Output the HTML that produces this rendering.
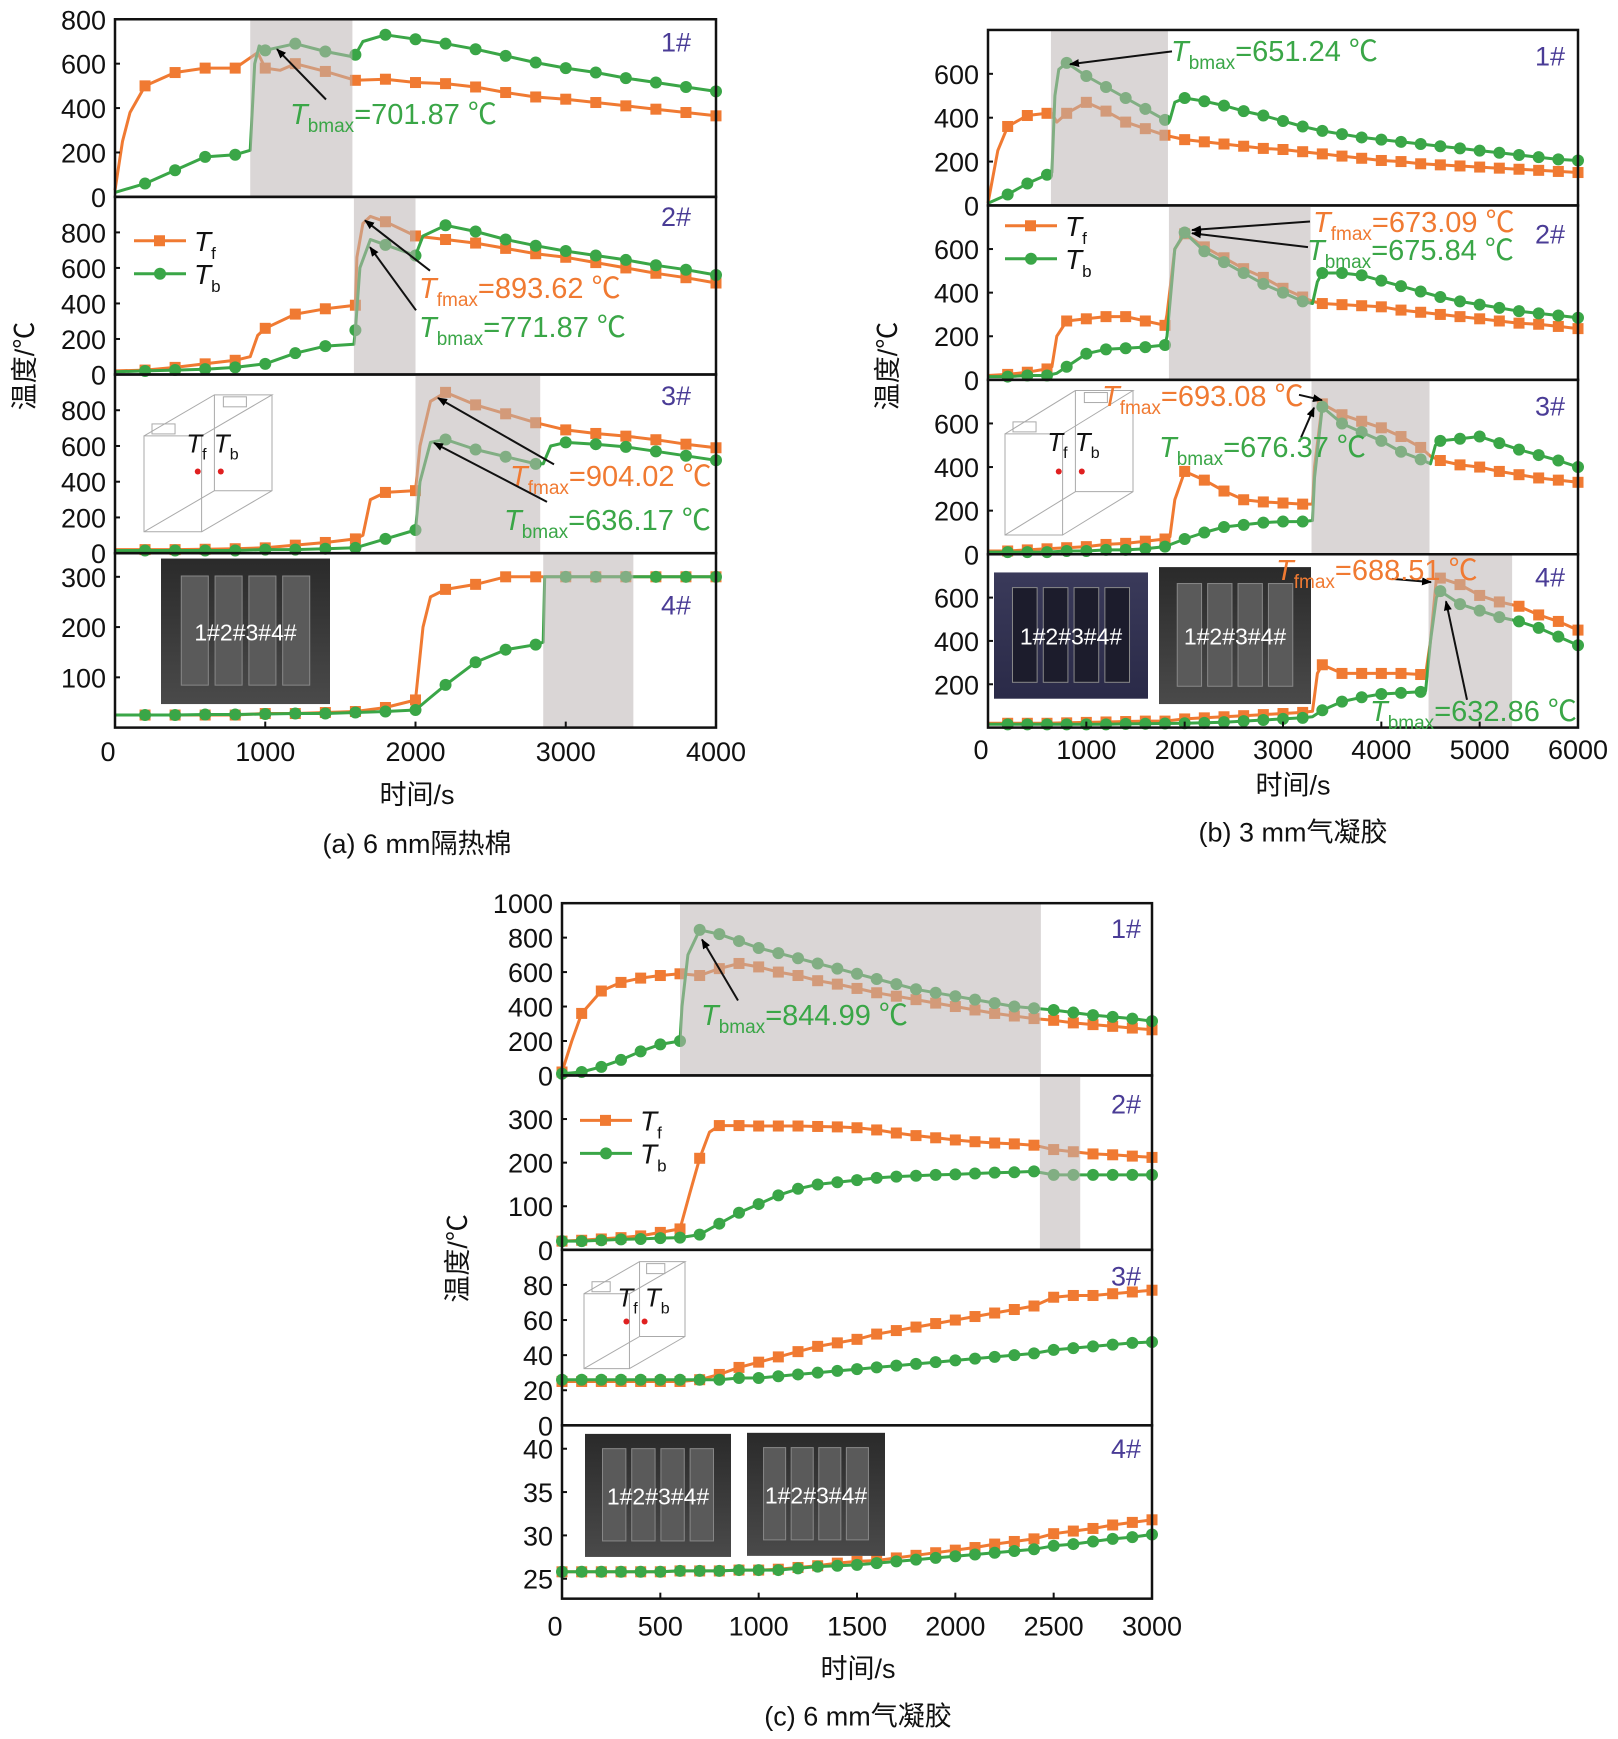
<!DOCTYPE html>
<html><head><meta charset="utf-8"><style>
html,body{margin:0;padding:0;background:#fff}
svg{display:block;font-family:"Liberation Sans","Noto Sans CJK SC",sans-serif}
</style></head><body>
<svg id="fig" width="1618" height="1739" viewBox="0 0 1618 1739" xmlns="http://www.w3.org/2000/svg">
<defs><marker id="ah" markerWidth="10" markerHeight="8" refX="9" refY="4" orient="auto" markerUnits="userSpaceOnUse"><path d="M0,0 L10,4 L0,8 z" fill="#000"/></marker>
<linearGradient id="ph1" x1="0" y1="0" x2="0" y2="1"><stop offset="0" stop-color="#2a2a2a"/><stop offset="1" stop-color="#4a4a4a"/></linearGradient>
<linearGradient id="ph2" x1="0" y1="0" x2="0" y2="1"><stop offset="0" stop-color="#3a3a5a"/><stop offset="1" stop-color="#2a2a48"/></linearGradient>
</defs>
</svg>
<script>
// ---- Panel (a) 6 mm 隔热棉 ----
const a1_ft=[0,50,100,200,400,600,800,950,1000,1100,1200,1400,1600,1800,2000,2200,2400,2600,2800,3000,3200,3400,3600,3800,4000];
const a1_fv=[30,250,380,500,560,580,580,650,580,570,600,565,525,530,515,510,495,470,450,440,425,410,395,380,365];
const a1_bt=[0,200,400,600,800,900,930,960,1000,1200,1400,1590,1600,1650,1800,2000,2200,2400,2600,2800,3000,3200,3400,3600,3800,4000];
const a1_bv=[20,60,120,180,190,210,600,680,660,690,655,630,640,700,730,710,690,665,635,605,580,560,535,515,495,475];
const a2_ft=[0,200,400,600,800,900,950,1000,1200,1400,1600,1610,1650,1700,1800,2000,2200,2400,2600,2800,3000,3200,3400,3600,3800,4000];
const a2_fv=[20,25,40,60,80,100,220,260,340,370,390,660,850,890,860,780,760,740,710,680,660,630,600,570,545,515];
const a2_bt=[0,200,400,600,800,1000,1200,1400,1590,1600,1630,1700,1800,2000,2050,2200,2400,2600,2800,3000,3200,3400,3600,3800,4000];
const a2_bv=[15,20,25,30,40,60,120,160,170,250,600,760,730,670,780,840,805,760,725,695,670,645,615,590,560];
const a3_ft=[0,200,400,600,800,1000,1200,1400,1600,1650,1700,1800,2000,2030,2100,2200,2400,2600,2800,3000,3200,3400,3600,3800,4000];
const a3_fv=[20,20,20,22,25,30,45,60,80,100,300,340,350,600,850,900,830,780,730,690,670,655,635,610,590];
const a3_bt=[0,200,400,600,800,1000,1200,1400,1600,1800,2000,2030,2100,2200,2400,2600,2800,2850,2900,3000,3200,3400,3600,3800,4000];
const a3_bv=[15,15,15,15,15,20,20,25,30,80,130,400,620,636,580,540,500,500,600,620,610,595,570,545,520];
const a4_ft=[0,200,400,600,800,1000,1200,1400,1600,1800,2000,2050,2100,2200,2400,2600,2800,3000,3200,3400,3600,3800,4000];
const a4_fv=[25,25,25,25,25,28,28,30,32,40,55,200,260,275,285,300,300,300,300,300,300,300,300];
const a4_bt=[0,200,400,600,800,1000,1200,1400,1600,1800,2000,2100,2200,2400,2600,2800,2850,2860,3000,3200,3400,3600,3800,4000];
const a4_bv=[25,25,25,26,26,27,28,28,30,32,35,60,85,130,155,165,170,300,300,300,300,300,300,300];
const a_shades=[[900,1580],[1590,2000],[2000,2830],[2850,3450]];
const a_xticks=[0,1000,2000,3000,4000];
const a_yticks=[[0,200,400,600,800],[0,200,400,600,800],[0,200,400,600,800],[100,200,300]];
// ---- Panel (b) 3 mm 气凝胶 ----
const b1_ft=[0,100,200,400,600,650,700,800,1000,1200,1400,1600,1800,2000,2200,2400,2600,2800,3000,3200,3400,3600,3800,4000,4200,4400,4600,4800,5000,5200,5400,5600,5800,6000];
const b1_fv=[10,250,360,410,420,420,380,420,470,430,380,350,320,300,290,280,270,260,255,245,235,225,215,205,200,190,185,180,175,170,165,160,155,150];
const b1_bt=[0,200,400,600,650,680,720,800,1000,1200,1400,1600,1800,1850,1900,2000,2200,2400,2600,2800,3000,3200,3400,3600,3800,4000,4200,4400,4600,4800,5000,5200,5400,5600,5800,6000];
const b1_bv=[10,50,100,140,150,500,620,650,590,540,490,440,390,390,470,490,475,455,430,410,385,360,340,325,310,300,290,280,270,260,250,240,230,220,210,205];
const b2_ft=[0,200,400,600,650,700,800,1000,1200,1400,1600,1800,1820,1900,2000,2200,2400,2600,2800,3000,3200,3300,3400,3600,3800,4000,4200,4400,4600,4800,5000,5200,5400,5600,5800,6000];
const b2_fv=[20,25,35,50,60,200,270,280,290,290,270,250,300,600,670,610,560,510,470,420,380,360,350,345,340,335,320,310,300,290,280,270,260,255,245,235];
const b2_bt=[0,200,400,600,700,800,1000,1200,1400,1600,1800,1820,1900,2000,2200,2400,2600,2800,3000,3200,3300,3350,3400,3600,3800,4000,4200,4400,4600,4800,5000,5200,5400,5600,5800,6000];
const b2_bv=[15,15,20,20,30,60,120,140,145,150,160,200,600,676,590,540,490,440,400,360,350,450,490,490,480,455,430,405,380,360,345,330,315,305,295,285];
const b3_ft=[0,200,400,600,800,1000,1200,1400,1600,1800,1850,1900,2000,2200,2400,2600,2800,3000,3200,3300,3320,3400,3600,3800,4000,4200,4400,4500,4600,4800,5000,5200,5400,5600,5800,6000];
const b3_fv=[15,15,20,25,30,35,45,50,60,70,80,250,380,340,290,250,240,235,230,230,400,690,640,610,580,540,490,450,430,410,400,380,365,350,340,330];
const b3_bt=[0,200,400,600,800,1000,1200,1400,1600,1800,2000,2200,2400,2600,2800,3000,3200,3300,3320,3400,3600,3800,4000,4200,4400,4500,4550,4600,4800,5000,5200,5400,5600,5800,6000];
const b3_bv=[10,10,10,10,15,15,20,20,25,35,70,100,125,135,145,150,150,155,350,676,600,560,520,470,435,415,500,520,530,540,510,480,455,430,400];
const b4_ft=[0,200,400,600,800,1000,1200,1400,1600,1800,2000,2200,2400,2600,2800,3000,3200,3300,3350,3400,3600,3800,4000,4200,4400,4450,4500,4560,4600,4800,5000,5200,5400,5600,5800,6000];
const b4_fv=[20,20,20,20,22,24,26,28,30,30,40,45,50,55,60,65,70,75,250,290,250,250,250,250,245,245,400,688,690,660,610,580,560,520,490,450];
const b4_bt=[0,200,400,600,800,1000,1200,1400,1600,1800,2000,2200,2400,2600,2800,3000,3200,3300,3400,3600,3800,4000,4200,4400,4450,4500,4560,4600,4800,5000,5200,5400,5600,5800,6000];
const b4_bv=[15,15,15,15,15,15,15,17,18,19,20,22,25,30,35,40,45,50,80,120,140,155,160,165,170,400,600,630,570,540,510,490,460,420,380];
const b_shades=[[640,1830],[1840,3280],[3290,4490],[4480,5330]];
const b_xticks=[0,1000,2000,3000,4000,5000,6000];
const b_yticks=[[0,200,400,600],[0,200,400,600],[0,200,400,600],[200,400,600]];
// ---- Panel (c) 6 mm 气凝胶 ----
const c1_ft=[0,50,100,200,300,400,500,600,700,800,900,1000,1100,1200,1300,1400,1500,1600,1700,1800,1900,2000,2100,2200,2300,2400,2500,2600,2700,2800,2900,3000];
const c1_fv=[20,200,360,490,540,565,580,590,580,620,650,630,600,580,550,530,505,480,460,440,420,400,380,360,345,330,320,305,295,285,275,265];
const c1_bt=[0,100,200,300,400,500,600,610,640,700,800,900,1000,1100,1200,1300,1400,1500,1600,1700,1800,1900,2000,2100,2200,2300,2400,2500,2600,2700,2800,2900,3000];
const c1_bv=[10,20,50,90,140,180,200,400,700,845,820,780,740,710,680,650,620,590,560,530,500,480,460,440,420,400,390,380,365,350,340,330,315];
const c2_ft=[0,100,200,300,400,500,600,650,700,750,800,900,1000,1100,1200,1300,1400,1500,1600,1700,1800,1900,2000,2100,2200,2300,2400,2500,2600,2700,2800,2900,3000];
const c2_fv=[20,22,25,28,32,40,48,130,210,270,285,285,284,284,284,283,282,280,275,268,262,257,252,248,245,243,240,230,225,220,218,215,212];
const c2_bt=[0,100,200,300,400,500,600,700,800,900,1000,1100,1200,1300,1400,1500,1600,1700,1800,1900,2000,2100,2200,2300,2400,2500,2600,2700,2800,2900,3000];
const c2_bv=[20,20,22,24,25,27,28,35,60,85,105,125,140,150,155,160,165,168,170,172,173,175,177,178,180,172,172,172,172,172,172];
const c3_t=[0,100,200,300,400,500,600,700,800,900,1000,1100,1200,1300,1400,1500,1600,1700,1800,1900,2000,2100,2200,2300,2400,2500,2600,2700,2800,2900,3000];
const c3_fv=[25,25,25,25,25,25,25,26,29,33,36,39,42,45,47,49,52,54,56,58,60,62,64,66,68,73,74,74,75,76,77];
const c3_bv=[26,26,26,26,26,26,26,26,26,27,27,28,29,30,31,32,33,34,35,36,37,38,39,40,41,43,44,45,46,47,47.5];
const c4_t=[0,100,200,300,400,500,600,700,800,900,1000,1100,1200,1300,1400,1500,1600,1700,1800,1900,2000,2100,2200,2300,2400,2500,2600,2700,2800,2900,3000];
const c4_fv=[25.8,25.8,25.8,25.8,25.8,25.8,25.9,25.9,25.9,26,26,26.1,26.3,26.5,26.8,27,27.1,27.4,27.7,28,28.3,28.6,29,29.3,29.6,30.2,30.5,30.8,31.2,31.5,31.8];
const c4_bv=[25.8,25.8,25.8,25.8,25.8,25.8,25.9,25.9,25.9,26,26,26,26.2,26.4,26.5,26.6,26.8,27,27.2,27.4,27.6,27.8,28,28.2,28.4,28.8,29,29.3,29.6,29.8,30.1];
const c_shades=[[600,2435],[2430,2635],null,null];
const c_xticks=[0,500,1000,1500,2000,2500,3000];
const c_yticks=[[0,200,400,600,800,1000],[0,100,200,300],[0,20,40,60,80],[25,30,35,40]];

const NS='http://www.w3.org/2000/svg';
const svg=document.getElementById('fig');
const OR='#f07a32', GR='#3aa647', PU='#4a3c96';
const K=1.07;
function fy(y){return y<860? y*K : 870+(y-870)*K;}
function el(tag,attrs,parent,text){const e=document.createElementNS(NS,tag);for(const k in attrs)e.setAttribute(k,attrs[k]);if(text!==undefined)e.textContent=text;(parent||svg).appendChild(e);return e;}

const panels=[
 {id:'a',x0:115,x1:716,tmax:4000,step:200,m0:false,xt:a_xticks,yt:a_yticks,sh:a_shades,
  subs:[[18,184,0,800],[184,350,0,1000],[350,517,0,1000],[517,680,0,347]],
  ser:[[a1_ft,a1_fv,a1_bt,a1_bv],[a2_ft,a2_fv,a2_bt,a2_bv],[a3_ft,a3_fv,a3_bt,a3_bv],[a4_ft,a4_fv,a4_bt,a4_bv]],
  tickY:702,xlab:[417,742],cap:[417,788,'(a) 6 mm隔热棉'],ylab:[24,342],lab:[676,[39,202,369,565]],legend:[134,225]},
 {id:'b',x0:988,x1:1578,tmax:6000,step:200,m0:false,xt:b_xticks,yt:b_yticks,sh:b_shades,
  subs:[[28,192,0,800],[192,355,0,800],[355,518,0,800],[518,680,0,800]],
  ser:[[b1_ft,b1_fv,b1_bt,b1_bv],[b2_ft,b2_fv,b2_bt,b2_bv],[b3_ft,b3_fv,b3_bt,b3_bv],[b4_ft,b4_fv,b4_bt,b4_bv]],
  tickY:700,xlab:[1293,733],cap:[1293,777,'(b) 3 mm气凝胶'],ylab:[887,342],lab:[1550,[52,218,379,539]],legend:[1005,211]},
 {id:'c',x0:562,x1:1152,tmax:3000,step:100,m0:true,xt:c_xticks,yt:c_yticks,sh:c_shades,
  subs:[[901,1062,0,1000],[1062,1225,0,400],[1225,1389,0,100],[1389,1551,22.7,42.7]],
  ser:[[c1_ft,c1_fv,c1_bt,c1_bv],[c2_ft,c2_fv,c2_bt,c2_bv],[c3_t,c3_fv,c3_t,c3_bv],[c4_t,c4_fv,c4_t,c4_bv]],
  tickY:1576,xlab:[858,1616],cap:[858,1660,'(c) 6 mm气凝胶'],ylab:[457,1233],lab:[1126,[924,1088,1249,1410]],legend:[580,1104]}
];

function drawSeries(g,p,ts,vs,color,square,X,Y){
  let d='';ts.forEach((t,i)=>{d+=(i?'L':'M')+X(t).toFixed(1)+','+Y(vs[i]).toFixed(1);});
  const pl=el('path',{d:d,fill:'none',stroke:color,'stroke-width':3,'stroke-linejoin':'round'},g);
  
  
  ts.forEach((t,i)=>{
    if(t%p.step!==0)return; if(t===0&&!p.m0)return;
    let m;
    if(square){m=el('rect',{x:X(t)-5.5,y:Y(vs[i])-5.5,width:11,height:11,fill:color},g);}
    else{m=el('circle',{cx:X(t),cy:Y(vs[i]),r:6,fill:color},g);}
    
    
  });
}

panels.forEach(p=>{
  const g=el('g',{});
  
  
  const X=t=>p.x0+t/p.tmax*(p.x1-p.x0);
  p.subs.forEach((sb,k)=>{
    const yt=fy(sb[0]), yb=fy(sb[1]), vmin=sb[2], vmax=sb[3];
    const Y=v=>yb-(v-vmin)/(vmax-vmin)*(yb-yt);
    const sg=el('g',{},g);
    
    
    const se=p.ser[k];
    drawSeries(sg,p,se[0],se[1],OR,true,X,Y);
    drawSeries(sg,p,se[2],se[3],GR,false,X,Y);
    const shd=p.sh[k];
    if(shd){const r=el('rect',{x:X(shd[0]),y:yt,width:X(shd[1])-X(shd[0]),height:yb-yt,fill:'rgb(188,180,180)','fill-opacity':0.55},sg);
      
      }
    const fr=el('rect',{x:p.x0,y:yt,width:p.x1-p.x0,height:yb-yt,fill:'none',stroke:'#111','stroke-width':2.5},sg);
    
    
    p.yt[k].forEach(v=>{
      const t=el('text',{x:p.x0-9,y:Y(v)+10,'text-anchor':'end','font-size':27,fill:'#111'},sg,String(v));
      
      
      el('line',{x1:p.x0,x2:p.x0+5,y1:Y(v),y2:Y(v),stroke:'#111','stroke-width':2},sg);
    });
    const lb=el('text',{x:p.lab[0],y:fy(p.lab[1][k])+10,'text-anchor':'middle','font-size':27,fill:PU},sg,(k+1)+'#');
    
    
  });
  const yb=fy(p.subs[3][1]);
  p.xt.forEach(t=>{
    el('line',{x1:X(t),x2:X(t),y1:yb,y2:yb-6,stroke:'#111','stroke-width':2},g);
    const tx=el('text',{x:X(t)+(t===0?-7:0),y:fy(p.tickY)+10,'text-anchor':'middle','font-size':27,fill:'#111'},g,String(t));
    
    
  });
  const xl=el('text',{x:p.xlab[0],y:fy(p.xlab[1])+10,'text-anchor':'middle','font-size':27,fill:'#111'},g,'时间/s');
  
  
  const cp=el('text',{x:p.cap[0],y:fy(p.cap[1])+10,'text-anchor':'middle','font-size':27,fill:'#111'},g,p.cap[2]);
  
  
  const yl=el('text',{x:0,y:0,transform:'translate('+(p.ylab[0]+10)+','+fy(p.ylab[1])+') rotate(-90)','text-anchor':'middle','font-size':27,fill:'#111'},g,'温度/℃');
  
  
  const lx=p.legend[0], ly=fy(p.legend[1]);
  const lg=el('g',{},g);
  
  
  el('line',{x1:lx,x2:lx+52,y1:ly,y2:ly,stroke:OR,'stroke-width':3},lg);
  el('rect',{x:lx+20,y:ly-5.5,width:11,height:11,fill:OR},lg);
  el('line',{x1:lx,x2:lx+52,y1:ly+33,y2:ly+33,stroke:GR,'stroke-width':3},lg);
  el('circle',{cx:lx+26,cy:ly+33,r:6,fill:GR},lg);
  const t1=el('text',{x:lx+60,y:ly+10,'font-size':28,fill:'#111'},lg);
  t1.innerHTML='<tspan font-style="italic">T</tspan><tspan font-size="17" dy="8">f</tspan>';
  const t2=el('text',{x:lx+60,y:ly+43,'font-size':28,fill:'#111'},lg);
  t2.innerHTML='<tspan font-style="italic">T</tspan><tspan font-size="17" dy="8">b</tspan>';
});

function cellSketch(x,y0,w,h0){
  const y=fy(y0), h=h0*K;
  const g=el('g',{stroke:'#aaa','stroke-width':1,fill:'none'});
  
  
  const dx=w*0.55, dy=h*0.3;
  el('path',{d:`M${x},${y+dy} L${x+w-dx},${y+dy} L${x+w-dx},${y+h} L${x},${y+h} Z M${x},${y+dy} L${x+dx},${y} L${x+w},${y} L${x+w-dx},${y+dy} M${x+w},${y} L${x+w},${y+h-dy} L${x+w-dx},${y+h} M${x+dx},${y} L${x+dx},${y+h-dy} L${x},${y+h} M${x+dx},${y+h-dy} L${x+w},${y+h-dy}`},g);
  el('rect',{x:x+8,y:y+dy-12,width:w*0.18,height:10},g);
  el('rect',{x:x+w*0.62,y:y+2,width:w*0.18,height:10},g);
  const t=el('text',{x:x+w*0.33,y:y+h*0.42,'font-size':26,fill:'#111',stroke:'none'},g);
  t.innerHTML='<tspan font-style="italic">T</tspan><tspan font-size="16" dy="7">f</tspan><tspan dy="-7" font-style="italic"> T</tspan><tspan font-size="16" dy="7">b</tspan>';
  el('circle',{cx:x+w*0.42,cy:y+h*0.56,r:3,fill:'#e02020',stroke:'none'},g);
  el('circle',{cx:x+w*0.6,cy:y+h*0.56,r:3,fill:'#e02020',stroke:'none'},g);
}
cellSketch(144,369,128,128);
cellSketch(1005,365,128,135);
cellSketch(584,1236,101,100);

function photo(x,y0,w,h0,grad){
  const y=fy(y0), h=h0*K;
  const g=el('g',{});
  
  
  el('rect',{x:x,y:y,width:w,height:h,fill:'url(#'+grad+')'},g);
  for(let i=0;i<4;i++){el('rect',{x:x+w*0.12+i*w*0.2,y:y+h*0.12,width:w*0.16,height:h*0.75,fill:grad==='ph2'?'#1c1c2c':'#5a5a5a',stroke:'#888','stroke-width':1},g);}
  const t=el('text',{x:x+w/2,y:y+h/2+9,'text-anchor':'middle','font-size':23,fill:'#fff'},g,'1#2#3#4#');
  
  
}
photo(161,522,169,136,'ph1');
photo(994,535,154,118,'ph2');
photo(1159,530,152,128,'ph1');
photo(585,1397,146,115,'ph1');
photo(747,1396,138,115,'ph1');

// annotations: text baseline in page px; arrows in pre-scale coords
const ann=[
 [290,124,GR,'b','701.87',[326,93,277,46]],
 [419,298,OR,'f','893.62',[430,253,365,206]],
 [419,337,GR,'b','771.87',[416,290,370,231]],
 [510,486,OR,'f','904.02',[554,434,438,372]],
 [504,530,GR,'b','636.17',[547,469,434,414]],
 [1171,61,GR,'b','651.24',[1172,48,1070,60]],
 [1313,232,OR,'f','673.09',[1310,207,1192,215]],
 [1307,260,GR,'b','675.84',[1308,231,1192,218]],
 [1102,406,OR,'f','693.08',[1299,369,1322,374]],
 [1159,457,GR,'b','676.37',[1301,409,1314,381]],
 [1276,580,OR,'f','688.51',[1392,541,1431,544]],
 [1370,721,GR,'b','632.86',[1467,654,1446,562]],
 [701,1025,GR,'b','844.99',[738,992,702,935]]
];
ann.forEach(a=>{
  const [x,y,c,s,v,ar]=a;
  const ln=el('line',{x1:ar[0],y1:fy(ar[1]),x2:ar[2],y2:fy(ar[3]),stroke:'#111','stroke-width':2,'marker-end':'url(#ah)'});
  
  
  const t=el('text',{x:x,y:y,'font-size':29,fill:c});
  t.innerHTML='<tspan font-style="italic">T</tspan><tspan font-size="19" dy="8">'+s+'max</tspan><tspan dy="-8">='+v+' ℃</tspan>';
  
  
});
</script>
</body></html>
